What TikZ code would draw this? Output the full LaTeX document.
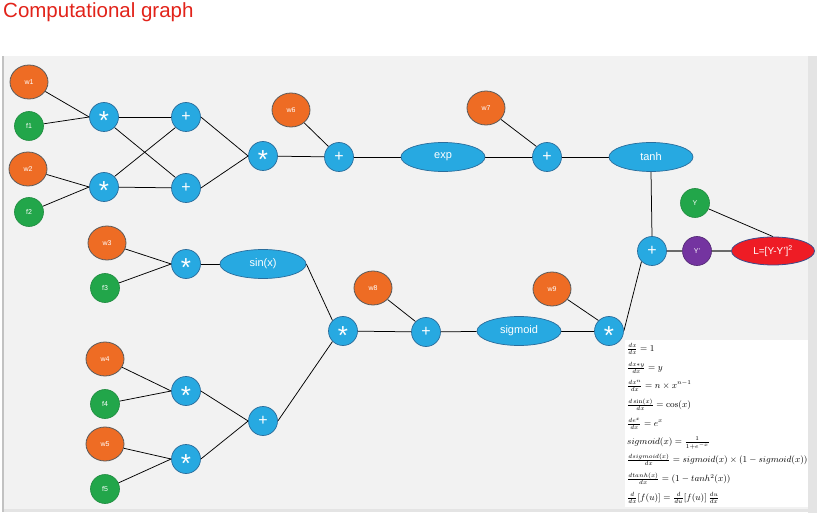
\documentclass[tikz,border=0pt]{standalone}
\usepackage[no-math]{fontspec}
\setmainfont{Liberation Sans}
\usetikzlibrary{shapes.geometric}
\pgfdeclarelayer{bg}
\pgfdeclarelayer{edgelayer}
\pgfsetlayers{bg,edgelayer,main}
\definecolor{nblue}{HTML}{27A9E1}
\definecolor{nblueD}{HTML}{2A6D9C}
\definecolor{norange}{HTML}{EE6C24}
\definecolor{ngrayD}{HTML}{5A5A5A}
\definecolor{ngreen}{HTML}{22A64A}
\definecolor{ngreenD}{HTML}{1E8A3E}
\definecolor{npurple}{HTML}{7434A0}
\definecolor{npurpleD}{HTML}{4E2470}
\definecolor{nred}{HTML}{EE1C25}
\definecolor{nredD}{HTML}{3B4C8C}
\definecolor{titlered}{HTML}{E2231A}
\definecolor{panelgray}{HTML}{F2F2F2}
\definecolor{stripgray}{HTML}{E4E4E4}
\definecolor{linegray}{HTML}{6A6A6A}
\newcommand{\opstar}{{\fontsize{26}{26}\selectfont\raisebox{-0.5em}[0pt][0pt]{*}}}
\newcommand{\opplus}{{\fontsize{16}{16}\selectfont +}}
\begin{document}
\begin{tikzpicture}[x=1pt,y=-1pt,
  opn/.style={circle, fill=nblue, draw=nblueD, line width=0.7pt, minimum size=29pt, inner sep=0pt, text=white},
  wnode/.style={ellipse, fill=norange, draw=ngrayD, line width=0.8pt, minimum width=38pt, minimum height=34pt, inner sep=0pt, text=white, font=\fontsize{7}{8}\selectfont},
  fnode/.style={circle, fill=ngreen, draw=ngreenD, line width=0.6pt, minimum size=29pt, inner sep=0pt, text=white, font=\fontsize{7}{8}\selectfont},
  fun/.style={ellipse, fill=nblue, draw=nblueD, line width=0.7pt, minimum width=84pt, minimum height=29pt, inner sep=0pt, text=white, font=\fontsize{11}{12}\selectfont},
  conn/.style={draw=black, line width=0.75pt},
  gconn/.style={draw=linegray, line width=1.3pt},
  formula/.style={anchor=west, inner sep=0pt, font=\fontsize{8.8}{10}\selectfont}
]
\useasboundingbox (0,0) rectangle (817,513);
\begin{pgfonlayer}{bg}
  \fill[white] (0,0) rectangle (817,513);
  \fill[panelgray] (3,56) rectangle (808,509);
  \fill[stripgray] (808,56) rectangle (817,513);
  \fill[stripgray] (2,509) rectangle (817,512);
  \fill[stripgray!85!black] (2,56) rectangle (3.5,512);
  \fill[white] (625,340) rectangle (808,507);
\end{pgfonlayer}

\node[anchor=base west, inner sep=0pt, text=titlered, font=\fontsize{20.5}{24}\selectfont] (title) at (3,18) {Computational graph};

% top branch
\node[wnode] (w1) at (29,82) {w1};
\node[fnode] (f1) at (29,126) {f1};
\node[wnode] (w2) at (28,169) {w2};
\node[fnode] (f2) at (29,212) {f2};
\node[opn] (m1) at (104,117) {\opstar};
\node[opn] (m2) at (104,187) {\opstar};
\node[opn] (a1) at (186,117) {\opplus};
\node[opn] (a2) at (186,188) {\opplus};
\node[opn] (m3) at (263,156) {\opstar};
\node[wnode] (w6) at (291,110) {w6};
\node[opn] (a3) at (339,157) {\opplus};
\node[fun] (exp) at (443,157) {exp};
\node[wnode] (w7) at (486,108) {w7};
\node[opn] (a4) at (547,157) {\opplus};
\node[fun] (tanh) at (651,157) {tanh};

% output
\node[fnode] (Y) at (695,203) {Y};
\node[opn] (a5) at (652,251) {\opplus};
\node[circle, fill=npurple, draw=npurpleD, line width=0.6pt, minimum size=29pt, inner sep=0pt, text=white, font=\fontsize{7}{8}\selectfont] (Yp) at (697,251) {Y'};
\node[ellipse, fill=nred, draw=nredD, line width=0.8pt, minimum width=83pt, minimum height=28pt, inner sep=0pt, text=white, font=\fontsize{10}{12}\selectfont] (L) at (773,251) {L=[Y-Y']\textsuperscript{2}};

% lower branch
\node[wnode] (w3) at (107,243) {w3};
\node[fnode] (f3) at (105,288) {f3};
\node[opn] (m4) at (186,264) {\opstar};
\node[fun, minimum width=86pt] (sin) at (263,264) {sin(x)};
\node[wnode] (w4) at (105,359) {w4};
\node[fnode] (f4) at (105,404) {f4};
\node[wnode] (w5) at (105,444) {w5};
\node[fnode] (f5) at (105,489) {f5};
\node[opn] (m6) at (186,391) {\opstar};
\node[opn] (m7) at (186,459) {\opstar};
\node[opn] (a7) at (263,421) {\opplus};
\node[opn] (m5) at (343,331) {\opstar};
\node[wnode] (w8) at (373,288) {w8};
\node[opn] (a6) at (426,332) {\opplus};
\node[fun] (sig) at (519,331) {sigmoid};
\node[wnode] (w9) at (552,289) {w9};
\node[opn] (m9) at (609,331) {\opstar};

% connectors
\begin{pgfonlayer}{edgelayer}
  \draw[conn] (w1) -- (m1.west);
  \draw[conn] (f1) -- (m1.west);
  \draw[conn] (w2) -- (m2.west);
  \draw[conn] (f2) -- (m2.west);
  \draw[conn] (m1) -- (a1);
  \draw[conn] (m2) -- (a2);
  \draw[conn] (m1.south east) -- (a2.north west);
  \draw[conn] (m2.north east) -- (a1.south west);
  \draw[conn] (a1.east) -- (m3.west);
  \draw[conn] (a2.east) -- (m3.west);
  \draw[conn] (m3) -- (a3);
  \draw[conn] (w6) -- (a3.north west);
  \draw[conn] (a3) -- (exp);
  \draw[conn] (exp) -- (a4);
  \draw[conn] (w7) -- (a4.north west);
  \draw[conn] (a4) -- (tanh);
  \draw[conn] (tanh.south) -- (a5.north);
  \draw[gconn] (a5) -- (Yp);
  \draw[gconn] (Yp) -- (L);
  \draw[conn] (Y) -- (L.north);
  \draw[conn] (w3) -- (m4.west);
  \draw[conn] (f3) -- (m4.west);
  \draw[conn] (m4) -- (sin);
  \draw[conn] (sin.east) -- (m5.north west);
  \draw[conn] (w4) -- (m6.west);
  \draw[conn] (f4) -- (m6.west);
  \draw[conn] (w5) -- (m7.west);
  \draw[conn] (f5) -- (m7.west);
  \draw[conn] (m6.east) -- (a7.west);
  \draw[conn] (m7.east) -- (a7.west);
  \draw[conn] (a7.east) -- (m5.south west);
  \draw[conn] (m5) -- (a6);
  \draw[conn] (w8) -- (a6.north west);
  \draw[conn] (a6) -- (sig);
  \draw[conn] (sig) -- (m9);
  \draw[conn] (w9) -- (m9.north west);
  \draw[conn] (m9.east) -- (a5.south west);
\end{pgfonlayer}

% formulas
\node[formula] (fm1) at (627,349) {$\frac{dx}{dx}=1$};
\node[formula] (fm2) at (627,368) {$\frac{dx*y}{dx}=y$};
\node[formula] (fm3) at (627,386) {$\frac{dx^n}{dx}=n\times x^{n-1}$};
\node[formula] (fm4) at (627,405) {$\frac{d\sin(x)}{dx}=\cos(x)$};
\node[formula] (fm5) at (627,424) {$\frac{de^x}{dx}=e^x$};
\node[formula] (fm6) at (627,443) {$sigmoid(x)=\frac{1}{1+e^{-x}}$};
\node[formula] (fm7) at (627,460) {$\frac{dsigmoid(x)}{dx}=sigmoid(x)\times(1-sigmoid(x))$};
\node[formula] (fm8) at (627,479) {$\frac{dtanh(x)}{dx}=(1-tanh^2(x))$};
\node[formula] (fm9) at (627,498) {$\frac{d}{dx}[f(u)]=\frac{d}{du}[f(u)]\,\frac{du}{dx}$};
\end{tikzpicture}
\end{document}
